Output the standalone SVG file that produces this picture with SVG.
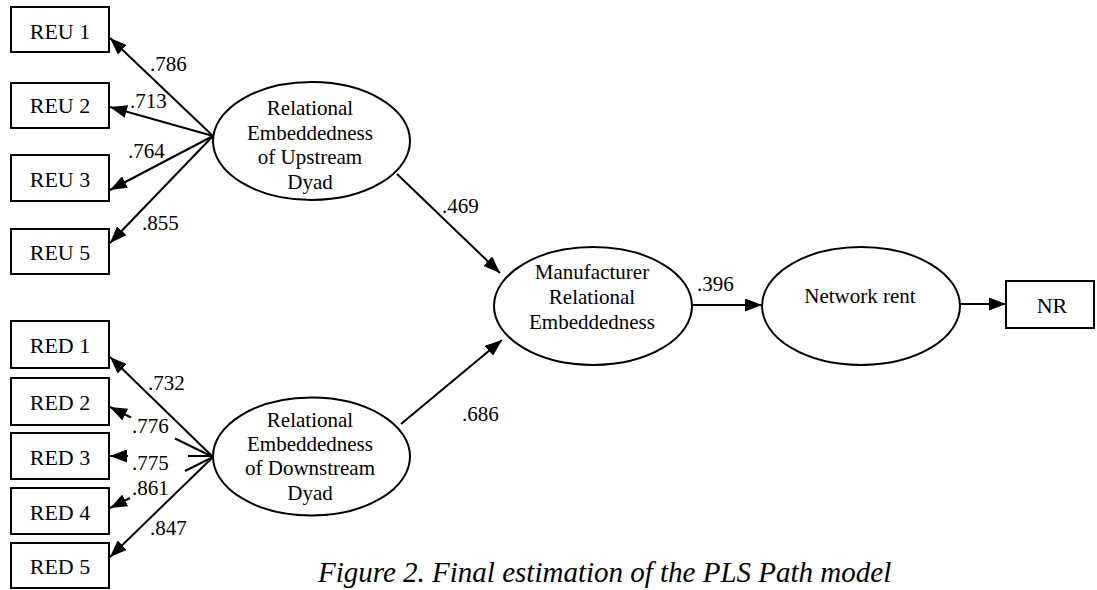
<svg xmlns="http://www.w3.org/2000/svg" width="1097" height="590" viewBox="0 0 1097 590">
<style>
.box{fill:#fff;stroke:#000;stroke-width:2}
.ell{fill:#fff;stroke:#000;stroke-width:2}
.bt,.et,.lb,.cap{font-family:'Liberation Serif','Times New Roman',Tinos,'DejaVu Serif','Noto Serif',FreeSerif,serif;fill:#000}
.bt{font-size:22px;text-anchor:middle}
.et{font-size:21px;text-anchor:middle}
.lb{font-size:21px}
.cap{font-size:29px;font-style:italic}
.ln{stroke:#000;stroke-width:2;fill:none}
.ar{marker-end:url(#ah)}
</style>
<defs>
<marker id="ah" markerUnits="userSpaceOnUse" markerWidth="17" markerHeight="13" refX="17" refY="6.5" orient="auto">
<path d="M0,0 L17,6.5 L0,13 z" fill="#000"/>
</marker>
</defs>
<rect width="1097" height="590" fill="#fff"/>
<g id="connectors">
<line class="ln ar" x1="213" y1="136" x2="110" y2="38"/>
<line class="ln ar" x1="213" y1="136" x2="110" y2="107"/>
<line class="ln ar" x1="213" y1="136" x2="110" y2="190"/>
<line class="ln ar" x1="213" y1="136" x2="110" y2="243"/>
<line class="ln ar" x1="213" y1="457" x2="110" y2="357"/>
<line class="ln" x1="213" y1="457" x2="175" y2="438.5"/>
<line class="ln ar" x1="131" y1="417.5" x2="110" y2="407"/>
<line class="ln" x1="213" y1="456" x2="188" y2="456"/>
<line class="ln ar" x1="128" y1="456" x2="110" y2="456"/>
<line class="ln" x1="213" y1="457" x2="185" y2="471"/>
<line class="ln ar" x1="130" y1="498" x2="110" y2="508"/>
<line class="ln ar" x1="213" y1="457" x2="110" y2="557"/>
<line class="ln ar" x1="397" y1="174" x2="500" y2="273"/>
<line class="ln ar" x1="401" y1="424" x2="502" y2="340"/>
<line class="ln ar" x1="692" y1="305" x2="762" y2="305"/>
<line class="ln ar" x1="960" y1="304" x2="1006" y2="304"/>
</g>
<g id="labels">
<text class="lb" x="150" y="71">.786</text>
<text class="lb" x="130" y="108">.713</text>
<text class="lb" x="128" y="158">.764</text>
<text class="lb" x="142" y="230">.855</text>
<text class="lb" x="148" y="390">.732</text>
<text class="lb" x="132" y="433">.776</text>
<text class="lb" x="132" y="470">.775</text>
<text class="lb" x="132" y="495">.861</text>
<text class="lb" x="150" y="535">.847</text>
<text class="lb" x="442" y="213">.469</text>
<text class="lb" x="462" y="421">.686</text>
<text class="lb" x="697" y="291">.396</text>
</g>
<g id="REU1"><rect class="box" x="11" y="7" width="98" height="45"/><text class="bt" x="60" y="39">REU 1</text></g>
<g id="REU2"><rect class="box" x="11" y="83" width="98" height="45"/><text class="bt" x="60" y="113">REU 2</text></g>
<g id="REU3"><rect class="box" x="11" y="155" width="98" height="46"/><text class="bt" x="60" y="187">REU 3</text></g>
<g id="REU5"><rect class="box" x="11" y="229" width="98" height="45"/><text class="bt" x="60" y="260">REU 5</text></g>
<g id="RED1"><rect class="box" x="11" y="321" width="98" height="47"/><text class="bt" x="60" y="353">RED 1</text></g>
<g id="RED2"><rect class="box" x="11" y="378" width="98" height="47"/><text class="bt" x="60" y="410">RED 2</text></g>
<g id="RED3"><rect class="box" x="11" y="433" width="98" height="46"/><text class="bt" x="60" y="465">RED 3</text></g>
<g id="RED4"><rect class="box" x="11" y="488" width="98" height="46"/><text class="bt" x="60" y="520">RED 4</text></g>
<g id="RED5"><rect class="box" x="11" y="543" width="98" height="45"/><text class="bt" x="60" y="574">RED 5</text></g>
<g id="NR"><rect class="box" x="1006" y="281" width="88" height="47"/><text class="bt" x="1052" y="313">NR</text></g>
<g id="Upstream"><ellipse class="ell" cx="311.5" cy="141" rx="98.5" ry="59"/>
<text class="et" x="310" y="115">Relational</text><text class="et" x="310" y="140">Embeddedness</text><text class="et" x="310" y="164">of Upstream</text><text class="et" x="310" y="189">Dyad</text></g>
<g id="Downstream"><ellipse class="ell" cx="311.5" cy="456.5" rx="98.5" ry="59"/>
<text class="et" x="310" y="427">Relational</text><text class="et" x="310" y="451">Embeddedness</text><text class="et" x="310" y="475">of Downstream</text><text class="et" x="310" y="500">Dyad</text></g>
<g id="Manufacturer"><ellipse class="ell" cx="593" cy="306" rx="99" ry="59"/>
<text class="et" x="592" y="279">Manufacturer</text><text class="et" x="592" y="304">Relational</text><text class="et" x="592" y="329">Embeddedness</text></g>
<g id="NetworkRent"><ellipse class="ell" cx="861" cy="306" rx="99" ry="59"/>
<text class="et" x="860" y="303">Network rent</text></g>
<text class="cap" x="318" y="582">Figure 2. Final estimation of the PLS Path model</text>
</svg>
